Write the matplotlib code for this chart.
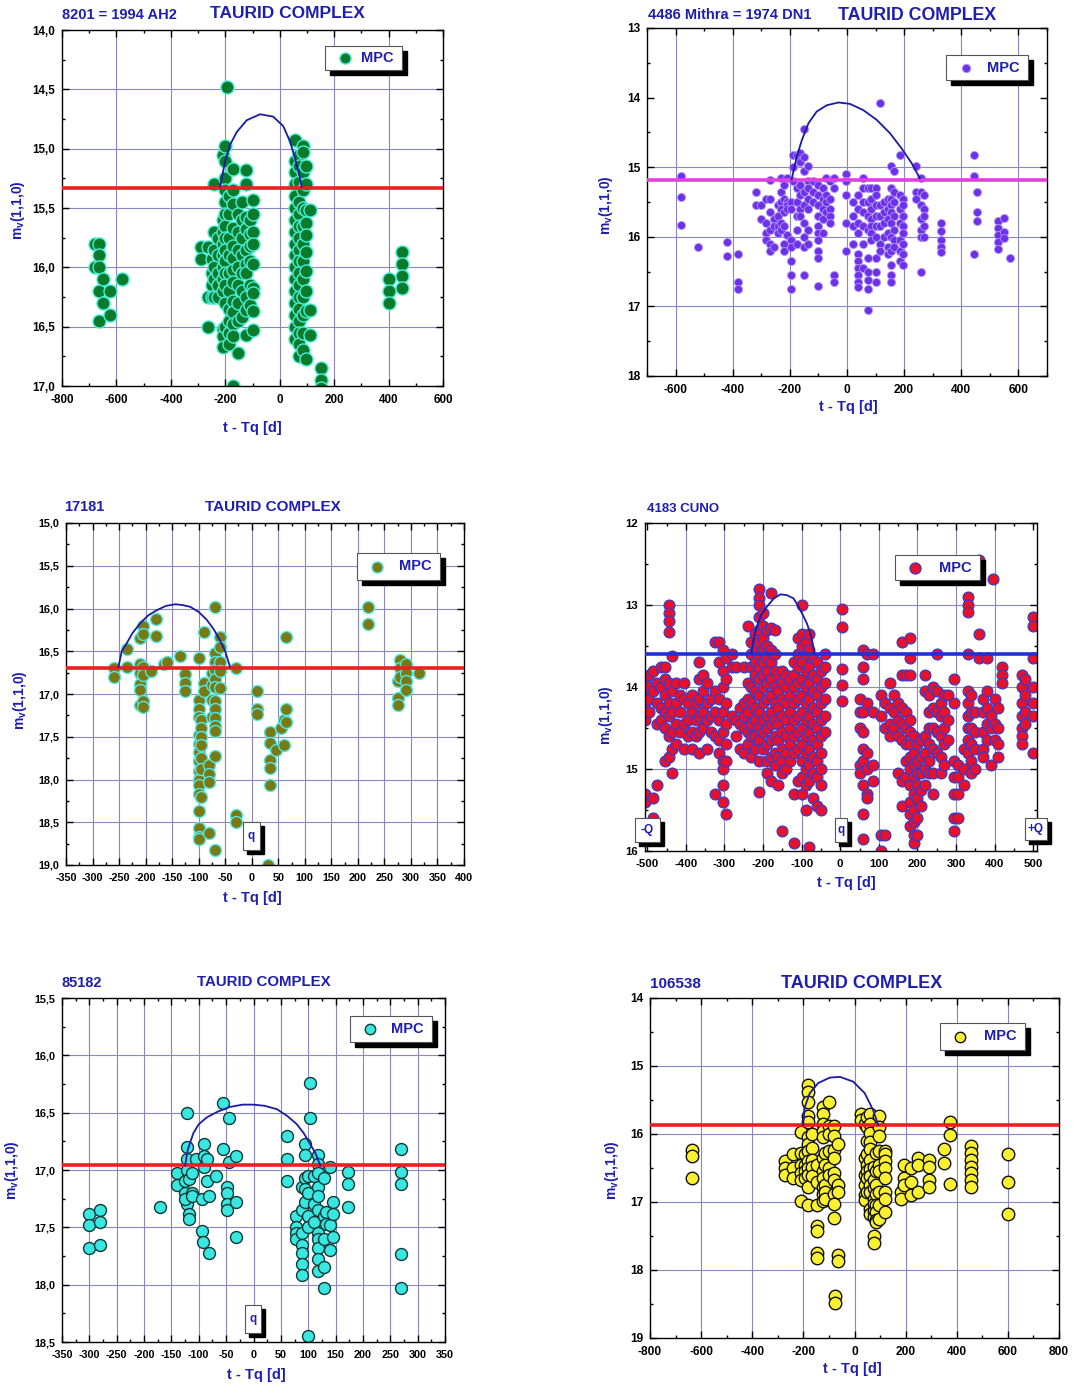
import matplotlib
matplotlib.use("Agg")
import matplotlib.pyplot as plt
from matplotlib.patches import Rectangle
from matplotlib.lines import Line2D
from matplotlib.ticker import MultipleLocator, FuncFormatter

plt.rcParams['font.family'] = ['Liberation Sans', 'DejaVu Sans']
plt.rcParams['axes.unicode_minus'] = False
plt.rcParams['mathtext.fontset'] = 'custom'
plt.rcParams['mathtext.rm'] = 'Liberation Sans:bold'
plt.rcParams['mathtext.bf'] = 'Liberation Sans:bold'
plt.rcParams['mathtext.default'] = 'bf'

W, H = 1073, 1386
BLUE = '#1e1eb0'

# ---------------- data ----------------
# Panel 1: 8201 = 1994 AH2   (x = t-Tq [d], list of m_v values)
p1_cols = [
    (-680, [15.8, 16.0]),
    (-665, [15.8, 15.9, 16.0, 16.2, 16.45]),
    (-650, [16.1, 16.3]),
    (-625, [16.2, 16.4]),
    (-580, [16.1]),
    (-290, [15.83, 15.93]),
    (-265, [15.83, 16.25, 16.5]),
    (-250, [15.93, 16.05, 16.15, 16.25]),
    (-240, [15.3, 15.7, 15.85, 16.0, 16.1, 16.25]),
    (-225, [15.75, 15.9, 16.05, 16.15, 16.25]),
    (-210, [15.05, 15.6, 15.7, 15.8, 15.9, 16.0, 16.1, 16.2, 16.52, 16.58, 16.67]),
    (-200, [14.98, 15.1, 15.25, 15.35, 15.45, 15.55, 15.65, 15.75, 15.85, 15.95, 16.05, 16.15, 16.3, 16.5]),
    (-195, [14.48]),
    (-185, [15.4, 15.55, 15.75, 15.9, 16.05, 16.2, 16.35, 16.45, 16.55, 16.65]),
    (-170, [15.17, 15.35, 15.47, 15.67, 15.82, 15.92, 16.02, 16.12, 16.28, 16.38, 16.48, 16.58, 17.0]),
    (-155, [15.55, 15.7, 15.85, 16.0, 16.15, 16.3, 16.45, 16.72]),
    (-140, [15.45, 15.6, 15.75, 15.9, 16.05, 16.2, 16.42]),
    (-125, [15.18, 15.3, 15.58, 15.68, 15.85, 15.97, 16.05, 16.25, 16.36, 16.57]),
    (-110, [15.6, 15.72, 15.82, 15.95, 16.15, 16.32]),
    (-100, [15.43, 15.55, 15.7, 15.8, 15.97, 16.17, 16.22, 16.37, 16.53]),
    (55, [14.93, 15.1, 15.2, 15.3, 15.4, 15.5, 15.6, 15.7, 15.8, 15.9, 16.0, 16.1, 16.2, 16.3, 16.4, 16.5, 16.6]),
    (70, [15.05, 15.15, 15.28, 15.45, 15.55, 15.65, 15.75, 15.85, 15.95, 16.05, 16.15, 16.25, 16.35, 16.45, 16.55, 16.65, 16.75]),
    (85, [14.98, 15.03, 15.2, 15.35, 15.5, 15.65, 15.8, 15.95, 16.1, 16.25, 16.4, 16.55, 16.7]),
    (95, [15.15, 15.3, 15.52, 15.63, 15.73, 15.87, 16.03, 16.2, 16.37, 16.77]),
    (110, [15.52, 16.36, 16.57]),
    (150, [16.85, 16.95, 17.02]),
    (400, [16.1, 16.2, 16.3]),
    (450, [15.87, 15.97, 16.07, 16.17]),
]
p1_curve_x = [-219, -201, -183, -158, -121, -72, -24, 13, 38, 56, 72, 81]
p1_curve_y = [15.32, 15.11, 14.97, 14.86, 14.76, 14.71, 14.73, 14.81, 14.94, 15.08, 15.22, 15.32]
p1_level = 15.33

# Panel 2: 4486 Mithra = 1974 DN1
p2_cols = [
    (-580, [15.13, 15.43, 15.83]), (-520, [16.15]), (-420, [16.08, 16.28]),
    (-380, [16.25, 16.65, 16.75]),
    (-320, [15.35, 15.55]), (-300, [15.55, 15.75]),
    (-285, [15.45, 15.8, 15.95, 16.05]),
    (-270, [15.18, 15.45, 15.65, 15.9, 16.1, 16.2]),
    (-255, [15.75, 15.85, 16.15]), (-240, [15.55, 15.7, 15.85, 15.95]),
    (-230, [15.15, 15.35, 15.5, 15.6, 15.8, 15.9]),
    (-220, [15.25, 15.45, 15.65, 15.85, 16.1, 16.2]),
    (-210, [15.15, 15.5, 15.55, 15.6, 15.98]),
    (-195, [15.5, 15.6, 16.05, 16.15, 16.35, 16.55, 16.75]),
    (-190, [14.83, 15.0, 15.2]),
    (-175, [14.83, 15.3, 15.5, 15.7, 15.9, 16.1]),
    (-165, [14.8, 14.92, 15.25, 15.4, 15.6, 15.7]),
    (-150, [14.45, 14.85, 15.05, 15.35, 15.55, 15.8, 16.0, 16.15, 16.55]),
    (-135, [14.98, 15.2, 15.3, 15.45, 15.6, 15.9, 16.1]),
    (-120, [15.2, 15.35, 15.5]),
    (-100, [15.25, 15.4, 15.55, 15.7, 15.85, 15.95, 16.05, 16.2, 16.3, 16.7]),
    (-85, [15.3, 15.45, 15.6, 15.75, 15.95]),
    (-75, [15.15, 15.4, 15.5, 15.65]),
    (-60, [15.2, 15.45, 15.6, 15.7, 15.8]),
    (-45, [15.15, 15.3, 16.55, 16.65]),
    (-5, [15.1, 15.2, 15.4, 15.8, 16.2]),
    (20, [15.5, 15.7, 15.85, 16.1]),
    (40, [15.4, 15.6, 15.8, 15.95, 16.25, 16.35, 16.45, 16.55, 16.65, 16.72]),
    (55, [15.15, 15.3, 15.5, 15.65, 15.85, 16.1, 16.45]),
    (75, [15.3, 15.5, 15.7, 15.9, 16.3, 16.5, 16.62, 16.75, 17.05]),
    (85, [15.3, 15.45, 15.6, 15.75, 15.85, 15.95, 16.05]),
    (100, [15.3, 15.4, 15.55, 15.7, 15.85, 16.0, 16.3, 16.5, 16.65]),
    (115, [14.08, 15.55, 15.7, 15.85, 16.1, 16.2]),
    (130, [15.5, 15.65, 15.8, 16.0]),
    (145, [15.45, 15.6, 15.75, 15.95, 16.15, 16.25]),
    (155, [14.98, 15.3, 15.45, 15.55, 15.65, 15.8, 16.0, 16.2, 16.4, 16.55, 16.65]),
    (165, [15.05, 15.35, 15.5, 15.7, 15.9, 16.05, 16.15]),
    (185, [14.83, 15.4, 15.6, 15.8, 16.05, 16.2, 16.35]),
    (195, [15.45, 15.55, 15.7, 15.85, 15.95, 16.1, 16.25, 16.4]),
    (240, [14.98, 15.35, 15.45]),
    (260, [15.15, 15.35, 15.55, 15.75, 15.9, 16.0, 16.5]),
    (270, [15.4, 15.6, 15.7, 15.85, 16.0]),
    (330, [15.8, 15.92, 16.05, 16.15, 16.22]),
    (445, [14.82, 15.12, 16.25]), (455, [15.35, 15.65, 15.78]),
    (530, [15.78, 15.88, 15.98, 16.08, 16.18]), (550, [15.73, 15.93, 16.02]),
    (570, [16.3]),
]
p2_curve_x = [-194, -176, -158, -135, -106, -71, -30, 10, 57, 104, 150, 191, 226, 255]
p2_curve_y = [15.18, 14.85, 14.61, 14.37, 14.20, 14.11, 14.07, 14.09, 14.18, 14.32, 14.51, 14.73, 14.94, 15.16]
p2_level = 15.18

# Panel 3: 17181
p3_cols = [
    (-260, [16.7, 16.8]), (-235, [16.47, 16.68]),
    (-210, [16.35, 16.65, 16.75, 16.88, 16.95, 17.13]),
    (-205, [16.2, 16.3, 16.68, 16.78, 17.08, 17.15]),
    (-190, [16.73]), (-180, [16.12, 16.32]), (-165, [16.65]), (-160, [16.62]),
    (-135, [16.55]), (-125, [16.77, 16.87, 16.97]), (-100, [16.58]),
    (-100, [17.07, 17.17, 17.27, 17.48, 17.58, 17.68, 17.78, 17.9, 18.0, 18.07, 18.17, 18.37, 18.57, 18.67, 18.7]),
    (-95, [17.3, 17.4, 17.5, 17.6, 17.75, 17.88, 18.2]),
    (-90, [16.28, 16.87, 16.97]),
    (-80, [17.83, 17.93, 18.03, 18.63]),
    (-75, [16.75, 16.9, 17.07, 17.27]),
    (-70, [15.98, 16.52, 16.62, 16.72, 16.82, 16.92, 17.08, 17.18, 17.28, 17.38, 17.43, 17.72, 18.82]),
    (-60, [16.33, 16.45, 16.62, 16.73, 16.93]),
    (-30, [16.7, 18.42, 18.5]),
    (10, [16.97, 17.18, 17.23]), (30, [19.0]),
    (35, [17.45, 17.57, 17.77, 17.87, 18.07]), (45, [17.65]), (55, [17.4]),
    (60, [17.3, 17.6]), (65, [16.33, 17.18, 17.33]),
    (220, [15.98, 16.18]), (275, [16.85, 17.05, 17.13]),
    (280, [16.6, 16.7, 16.8]), (290, [16.65, 16.75, 16.85, 16.95]), (315, [16.75]),
]
p3_curve_x = [-251, -245, -235, -225, -210, -195, -179, -162, -144, -130, -116, -100, -85, -72, -60, -50, -41]
p3_curve_y = [16.68, 16.5, 16.4, 16.29, 16.17, 16.08, 16.02, 15.97, 15.95, 15.96, 15.98, 16.04, 16.13, 16.24, 16.37, 16.5, 16.68]
p3_level = 16.7

# Panel 4: 4183 CUNO
p4_cols = [
    (-505, [13.9, 14.05, 14.2, 14.3, 14.4, 15.3, 15.4]),
    (-495, [13.85, 14.0, 14.15, 14.3]),
    (-485, [13.8, 14.05, 15.35, 15.6]),
    (-475, [13.95, 14.2, 14.45, 15.2]),
    (-465, [13.75, 14.0, 14.25, 14.4]),
    (-455, [13.75, 13.9, 14.1, 14.3, 14.5, 14.9]),
    (-445, [13.0, 13.1, 13.2, 13.33, 13.95, 14.2, 14.35, 14.6, 14.85]),
    (-435, [13.62, 14.05, 14.3, 14.55, 14.75, 15.05]),
    (-425, [13.95, 14.2, 14.45, 14.7]),
    (-415, [14.1, 14.3, 14.55]),
    (-405, [13.95, 14.15, 14.45, 14.75]),
    (-395, [14.2, 14.4, 14.6]),
    (-385, [14.1, 14.3, 14.55, 14.75]),
    (-375, [14.2, 14.4, 14.6]),
    (-365, [13.7, 13.9, 14.15, 14.35, 14.55, 14.8]),
    (-355, [13.85, 14.05, 14.3, 14.5]),
    (-345, [13.95, 14.2, 14.4, 14.75]),
    (-335, [14.15, 14.35, 14.55]),
    (-325, [13.45, 14.05, 14.3, 14.6, 15.3]),
    (-315, [13.45, 13.7, 14.15, 14.4, 14.65, 14.8]),
    (-305, [13.55, 13.8, 14.0, 14.3, 14.55, 14.9, 15.0, 15.2, 15.4]),
    (-295, [13.65, 13.9, 14.2, 14.45, 14.7, 14.9, 15.55]),
    (-280, [13.6, 13.75, 14.35]),
    (-270, [13.75, 14.4, 14.6]),
    (-260, [14.25, 14.45, 14.75]),
    (-250, [13.75, 14.2, 14.35, 14.5, 14.8]),
    (-240, [13.25, 13.95, 14.15, 14.3, 14.55, 14.7]),
    (-230, [13.45, 13.6, 13.75, 14.0, 14.2, 14.45, 14.6, 14.85]),
    (-220, [13.35, 13.55, 13.7, 13.85, 14.05, 14.25, 14.4, 14.6, 14.75]),
    (-210, [12.8, 12.92, 13.0, 13.15, 13.3, 13.45, 13.6, 13.75, 13.9, 14.1, 14.3, 14.5, 14.65, 14.9, 15.28]),
    (-200, [13.1, 13.25, 13.4, 13.55, 13.7, 13.85, 14.0, 14.2, 14.4, 14.55, 14.75]),
    (-190, [13.3, 13.5, 13.65, 13.8, 13.95, 14.15, 14.35, 14.5, 14.7, 14.9, 15.05]),
    (-180, [12.85, 13.28, 13.55, 13.7, 13.9, 14.1, 14.3, 14.45, 14.65, 14.85, 15.15]),
    (-170, [13.3, 13.6, 13.8, 14.0, 14.2, 14.4, 14.6, 14.8, 14.95]),
    (-160, [13.85, 14.05, 14.25, 14.45, 14.65, 14.85, 15.2]),
    (-150, [13.8, 13.95, 14.15, 14.35, 14.55, 14.75, 14.9, 15.05, 15.75]),
    (-140, [13.85, 14.0, 14.2, 14.4, 14.6, 14.8, 15.0]),
    (-130, [13.9, 14.1, 14.3, 14.5, 14.7, 14.9]),
    (-120, [13.7, 13.85, 14.0, 14.2, 14.4, 14.6, 14.8, 15.3, 15.9]),
    (-110, [13.4, 13.6, 13.75, 13.95, 14.15, 14.35, 14.55, 14.75, 15.15]),
    (-100, [13.0, 13.35, 13.5, 13.7, 13.9, 14.1, 14.3, 14.5, 14.7, 14.9, 15.1, 15.3]),
    (-90, [13.45, 13.6, 13.8, 14.0, 14.2, 14.4, 14.6, 14.8, 15.0, 15.2, 15.5]),
    (-80, [13.35, 13.55, 13.75, 13.95, 14.15, 14.35, 14.55, 14.75, 14.95, 15.15, 15.95]),
    (-70, [13.65, 13.85, 14.05, 14.25, 14.45, 14.65, 14.85, 15.05, 15.35]),
    (-60, [13.7, 13.9, 14.1, 14.3, 14.5, 14.7, 14.9, 15.1, 15.45]),
    (-50, [13.8, 14.0, 14.2, 14.4, 14.6, 14.8, 15.0, 15.2, 15.5]),
    (-40, [13.6, 13.75, 13.95, 14.15, 14.35, 14.55]),
    (5, [13.05, 13.27, 13.78, 13.97, 14.17]),
    (50, [14.15, 14.3, 14.5, 14.95, 15.05]),
    (60, [13.55, 13.75, 13.9, 14.3, 14.55, 14.75, 14.9, 15.2, 15.55, 15.85]),
    (70, [13.6, 14.2, 14.8, 15.0, 15.3, 15.35]),
    (85, [13.6, 14.3, 14.95, 15.15]),
    (105, [14.1, 14.35, 15.8, 16.0]),
    (115, [14.2, 14.5, 15.8]),
    (130, [13.95, 14.25, 14.45, 14.6]),
    (140, [14.1, 14.3, 14.5]),
    (150, [14.2, 14.4, 14.6, 15.05]),
    (160, [13.45, 13.85, 14.25, 14.45, 14.65, 15.15, 15.45]),
    (170, [13.85, 14.3, 14.5, 14.7, 14.9, 15.1]),
    (180, [13.4, 13.65, 13.85, 14.4, 14.55, 14.7, 14.85, 15.0, 15.2, 15.4, 15.55, 15.7]),
    (190, [14.6, 14.8, 14.95, 15.1, 15.3, 15.5, 15.65, 15.8, 15.9]),
    (200, [14.7, 14.9, 15.05, 15.2, 15.35, 15.6, 15.8]),
    (210, [14.65, 14.85, 15.05, 15.25, 15.45]),
    (220, [13.85, 14.05, 14.6, 14.8, 15.0, 15.2]),
    (230, [14.1, 14.3, 14.5, 14.7, 14.9, 15.05]),
    (240, [14.0, 14.25, 14.5, 14.75, 15.05, 15.3]),
    (250, [13.6, 14.05, 14.3, 14.55, 14.8]),
    (260, [14.2, 14.35, 14.6, 14.85, 15.05]),
    (270, [14.1, 14.3, 14.5, 14.7, 14.95]),
    (280, [14.1, 14.4, 14.65]),
    (295, [13.9, 14.2, 14.9, 15.1, 15.3, 15.6, 15.75]),
    (305, [14.95, 15.1, 15.3, 15.6]),
    (320, [14.75, 15.0, 15.2]),
    (330, [12.9, 13.0, 13.08, 13.6, 14.05, 14.2, 14.35, 14.5, 14.65, 14.8]),
    (340, [14.1, 14.3, 14.5, 14.7, 14.9, 15.05]),
    (350, [14.3, 14.55, 14.75, 15.0]),
    (360, [12.45, 13.35, 13.65]),
    (370, [14.15, 14.3, 14.55, 14.75, 14.85]),
    (380, [13.65, 14.05, 14.25, 14.45, 14.65]),
    (390, [14.35, 14.5, 14.95]),
    (395, [12.68]),
    (400, [14.15, 14.45, 14.65]),
    (410, [14.25, 14.5, 14.7, 14.85]),
    (420, [13.75, 13.85, 13.95]),
    (470, [13.85, 14.0, 14.2, 14.35, 14.5, 14.6, 14.7]),
    (480, [13.9, 14.1, 14.3, 14.45]),
    (500, [13.15, 13.25, 13.65, 14.0, 14.2, 14.35, 14.8]),
]
p4_curve_x = [-230, -224, -216, -205, -190, -172, -155, -138, -121, -108, -95, -86, -78, -72, -67]
p4_curve_y = [13.59, 13.4, 13.26, 13.12, 13.02, 12.92, 12.87, 12.88, 12.92, 13.02, 13.14, 13.23, 13.34, 13.45, 13.59]
p4_level = 13.6

# Panel 5: 85182
p5_cols = [
    (-300, [17.38, 17.48, 17.68]), (-280, [17.35, 17.45, 17.65]),
    (-170, [17.32]), (-140, [17.03, 17.13]),
    (-122, [16.5, 16.8, 16.9, 17.0, 17.3]),
    (-125, [17.1, 17.2, 17.25]), (-118, [17.08, 17.38, 17.43]),
    (-112, [17.03, 17.2, 17.23]),
    (-105, [16.9]), (-95, [17.25, 17.53]), (-92, [17.63]),
    (-90, [16.77, 16.88, 16.97]), (-85, [16.9, 17.1]), (-82, [17.23, 17.72]),
    (-68, [17.05]),
    (-55, [16.42, 16.82]), (-45, [16.55, 16.93]),
    (-48, [17.15, 17.2, 17.3, 17.35]),
    (-32, [16.88, 17.28, 17.58]),
    (62, [16.7, 16.9, 17.1]),
    (77, [17.4, 17.5, 17.55, 17.6]),
    (88, [17.15, 17.35, 17.55, 17.65, 17.72, 17.82, 17.92]),
    (94, [16.77, 16.87, 17.07, 17.17, 17.28]),
    (100, [17.05, 17.2, 17.4, 17.5, 18.45]),
    (103, [16.24, 16.55]),
    (110, [17.05, 17.3, 17.45]),
    (117, [16.87, 16.95, 17.03, 17.15, 17.23, 17.35, 17.55, 17.6, 17.68, 17.78, 17.88]),
    (128, [17.07, 17.4, 17.6, 17.85, 18.03]),
    (133, [17.37, 17.47]),
    (140, [16.97, 17.48, 17.7]),
    (146, [17.28, 17.38, 17.58]),
    (173, [17.02, 17.12, 17.32]),
    (270, [16.82, 17.02, 17.12, 17.73, 18.03]),
]
p5_curve_x = [-125, -120, -110, -100, -85, -65, -43, -20, 0, 20, 43, 62, 79, 92, 103, 113, 122]
p5_curve_y = [16.96, 16.82, 16.68, 16.6, 16.54, 16.49, 16.45, 16.43, 16.43, 16.44, 16.47, 16.53, 16.6, 16.68, 16.77, 16.85, 16.96]
p5_level = 16.96

# Panel 6: 106538
p6_cols = [
    (-635, [16.23, 16.33, 16.65]),
    (-270, [16.4, 16.5, 16.6]), (-240, [16.3, 16.5, 16.65]),
    (-210, [15.97, 16.28, 16.45, 16.58, 16.68, 16.98]),
    (-195, [16.3, 16.45, 16.55, 16.65]),
    (-180, [15.28, 15.38, 15.53, 15.73, 15.83, 16.05, 16.15, 16.25, 16.4, 16.5, 16.6, 16.78, 17.05]),
    (-165, [16.0, 16.2, 16.38, 16.48, 16.62]),
    (-145, [16.45, 16.7, 17.05, 17.35, 17.43, 17.75, 17.83]),
    (-125, [15.6, 15.7, 15.85, 15.95, 16.05, 16.35, 16.55, 16.65, 16.78, 16.88, 16.98]),
    (-115, [16.28, 16.45, 16.75, 16.85, 16.95]),
    (-100, [15.53, 15.88, 16.0, 16.25, 16.5, 16.6]),
    (-80, [15.88, 16.03, 16.23, 16.35, 16.58, 16.68, 16.88, 17.03, 17.23]),
    (-75, [18.38, 18.48]),
    (-65, [16.15, 16.75, 16.85, 17.78, 17.87]),
    (25, [15.7, 15.8]),
    (40, [15.85, 16.35, 16.6, 16.75, 16.9, 16.97]),
    (50, [15.75, 15.9, 16.1, 16.3, 16.45, 16.55, 16.65, 16.85]),
    (60, [15.7, 15.85, 15.98, 16.12, 16.22, 16.38, 16.52, 16.62, 16.75, 16.85, 17.1, 17.18]),
    (75, [16.48, 16.68, 16.8, 16.95, 17.03, 17.13, 17.22, 17.5, 17.6]),
    (85, [16.28, 16.55, 16.75, 16.88, 17.05, 17.15, 17.27, 17.3]),
    (95, [15.73, 15.9, 16.03, 16.25, 16.45, 16.55, 16.85, 17.05, 17.25]),
    (120, [16.25, 16.3, 16.4, 16.5, 16.65, 16.85, 16.95, 17.15]),
    (180, [16.85, 16.95]), (195, [16.45, 16.65, 16.75]),
    (220, [16.5, 16.7, 16.9]), (250, [16.35, 16.45, 16.85]),
    (290, [16.38, 16.48, 16.68, 16.78]), (350, [16.22, 16.42]),
    (375, [15.82, 16.02, 16.73]),
    (455, [16.17, 16.28, 16.38, 16.48, 16.58, 16.68, 16.78]),
    (600, [16.3, 16.7, 17.18]),
]
p6_curve_x = [-201, -194, -175, -142, -96, -57, -5, 40, 73, 93]
p6_curve_y = [15.87, 15.60, 15.40, 15.25, 15.17, 15.16, 15.23, 15.40, 15.65, 15.87]
p6_level = 15.87

titles_small = ["8201 = 1994 AH2", "4486 Mithra = 1974 DN1", "17181", "4183 CUNO", "85182", "106538"]
title_main = "TAURID COMPLEX"
legend_label = "MPC"


def expand(cols):
    xs, ys = [], []
    for x, yl in cols:
        xs += [x] * len(yl)
        ys += list(yl)
    return xs, ys


fig = plt.figure(figsize=(W / 100, H / 100), dpi=100)


def fx(x):
    return x / W


def fy(y):
    return 1 - y / H


def add_ax(l, t, r, b):
    return fig.add_axes([fx(l), fy(b), (r - l) / W, (b - t) / H])


def shadow_box(x0, y0, x1, y1, off=5):
    fig.patches.append(Rectangle((fx(x0 + off), fy(y1 + off)), (x1 - x0) / W, (y1 - y0) / H,
                                 transform=fig.transFigure, facecolor='black', edgecolor='black', zorder=5))
    fig.patches.append(Rectangle((fx(x0), fy(y1)), (x1 - x0) / W, (y1 - y0) / H,
                                 transform=fig.transFigure, facecolor='white', edgecolor='#555555',
                                 lw=0.8, zorder=6))


def legend_box(x0, y0, x1, y1, face, edge, ms, mew):
    shadow_box(x0, y0, x1, y1)
    ym = (y0 + y1) / 2
    fig.add_artist(Line2D([fx(x0 + 20)], [fy(ym)], transform=fig.transFigure, marker='o', ls='none',
                          markerfacecolor=face, markeredgecolor=edge, markersize=ms, markeredgewidth=mew,
                          zorder=7))
    fig.text(fx(x1 - 8), fy(ym), legend_label, ha='right', va='center', color=BLUE,
             fontsize=10.5, fontweight='bold', zorder=7)


def label_box(x0, y0, x1, y1, txt):
    shadow_box(x0, y0, x1, y1, off=4)
    fig.text(fx((x0 + x1) / 2), fy((y0 + y1) / 2), txt, ha='center', va='center', color=BLUE,
             fontsize=8.5, fontweight='bold', zorder=7)


comma = FuncFormatter(lambda v, p: f"{v:.1f}".replace('.', ','))
integer = FuncFormatter(lambda v, p: f"{v:.0f}")

GRID = '#8888c4'


def setup(ax, xlim, ylim, xmaj, xmin, ymaj, ymin, xgrid, ygrid, yfmt, lsize=8.4):
    ax.set_xlim(*xlim)
    ax.set_ylim(*ylim)
    ax.xaxis.set_major_locator(MultipleLocator(xmaj))
    ax.xaxis.set_minor_locator(MultipleLocator(xmin))
    ax.yaxis.set_major_locator(MultipleLocator(ymaj))
    ax.yaxis.set_minor_locator(MultipleLocator(ymin))
    ax.yaxis.set_major_formatter(yfmt)
    ax.xaxis.set_major_formatter(integer)
    ax.tick_params(which='both', direction='in', top=True, right=True, width=1, color='black')
    ax.tick_params(which='major', length=5, labelsize=lsize)
    ax.tick_params(axis='x', which='major', pad=5.5)
    ax.tick_params(axis='y', which='major', pad=5)
    ax.tick_params(which='minor', length=2.5)
    for lab in ax.get_xticklabels() + ax.get_yticklabels():
        lab.set_fontweight('bold')
    for v in xgrid:
        ax.axvline(v, color=GRID, lw=0.8, zorder=0.5)
    for v in ygrid:
        ax.axhline(v, color=GRID, lw=0.8, zorder=0.5)
    for s in ax.spines.values():
        s.set_linewidth(1.0)


def plot_panel(ax, cols, cx, cy, level, face, edge, ms, mew, lcolor):
    xs, ys = expand(cols)
    ax.plot(xs, ys, 'o', ls='none', markerfacecolor=face, markeredgecolor=edge, markersize=ms,
            markeredgewidth=mew, zorder=2)
    ax.axhline(level, color=lcolor, lw=2.6, zorder=3)
    ax.plot(cx, cy, color='#1a1aa8', lw=1.3, zorder=4, solid_joinstyle='round')


def xlabel(x, y):
    fig.text(fx(x), fy(y), "t - Tq [d]", ha='center', va='center', color=BLUE, fontsize=10.5,
             fontweight='bold')


def ylabel(x, y):
    fig.text(fx(x), fy(y), r"m$_{v}$(1,1,0)", ha='center', va='center', color=BLUE, fontsize=10,
             fontweight='bold', rotation=90)


# ---------- Panel 1 ----------
ax1 = add_ax(62, 30, 443, 386)
setup(ax1, (-800, 600), (17, 14), 200, 100, 0.5, 0.25,
      [-600, -400, -200, 0, 200, 400], [14.5, 15.0, 15.5, 16.0, 16.5], comma)
plot_panel(ax1, p1_cols, p1_curve_x, p1_curve_y, p1_level, '#0b7a2a', '#48f0d8', 9.4, 1.0, '#e82020')
fig.text(fx(62), fy(15), titles_small[0], ha='left', va='center', color=BLUE, fontsize=10.5, fontweight='bold')
fig.text(fx(210), fy(14), title_main, ha='left', va='center', color=BLUE, fontsize=12.5, fontweight='bold')
legend_box(325, 46, 402, 70, '#0b7a2a', '#48f0d8', 8, 1.0)
xlabel(252, 428)
ylabel(18, 210)

# ---------- Panel 2 ----------
ax2 = add_ax(647, 28, 1047, 376)
setup(ax2, (-700, 700), (18, 13), 200, 100, 1, 0.5,
      [-600, -400, -200, 0, 200, 400, 600], [15, 16, 17], integer, lsize=8.6)
plot_panel(ax2, p2_cols, p2_curve_x, p2_curve_y, p2_level, '#7030e8', '#a898ff', 5.8, 0.6, '#e040e0')
fig.text(fx(648), fy(15), titles_small[1], ha='left', va='center', color=BLUE, fontsize=10.5, fontweight='bold')
fig.text(fx(838), fy(15), title_main, ha='left', va='center', color=BLUE, fontsize=12.8, fontweight='bold')
legend_box(946, 55, 1028, 80, '#7030e8', '#a898ff', 6, 0.8)
xlabel(848, 407)
ylabel(606, 205)

# ---------- Panel 3 ----------
ax3 = add_ax(66, 523, 464, 865)
setup(ax3, (-350, 400), (19, 15), 50, 25, 0.5, 0.25,
      list(range(-300, 400, 50)), [15.5, 16.0, 16.5, 17.0, 17.5, 18.0, 18.5], comma, lsize=7.8)
plot_panel(ax3, p3_cols, p3_curve_x, p3_curve_y, p3_level, '#7a7a14', '#50e8e8', 8.6, 1.0, '#e82020')
fig.text(fx(64), fy(507), titles_small[2], ha='left', va='center', color=BLUE, fontsize=10.5, fontweight='bold')
fig.text(fx(205), fy(507), title_main, ha='left', va='center', color=BLUE, fontsize=11, fontweight='bold')
legend_box(357, 553, 440, 580, '#7a7a14', '#50e8e8', 8, 1.0)
label_box(243, 822, 260, 850, 'q')
xlabel(252, 898)
ylabel(20, 700)

# ---------- Panel 4 ----------
ax4 = add_ax(645, 523, 1037, 851)
setup(ax4, (-506, 510), (16, 12), 100, 50, 1, 0.5,
      [-400, -300, -200, -100, 0, 100, 200, 300, 400], [13, 14, 15], integer, lsize=8.2)
plot_panel(ax4, p4_cols, p4_curve_x, p4_curve_y, p4_level, '#e8102a', '#3a3ac8', 7.8, 0.9, '#2030d8')
fig.text(fx(647), fy(509), titles_small[3], ha='left', va='center', color=BLUE, fontsize=9.5, fontweight='bold')
legend_box(895, 555, 980, 580, '#e8102a', '#3a3ac8', 8, 0.9)
label_box(635, 818, 660, 842, '-Q')
label_box(835, 818, 847, 842, 'q')
label_box(1025, 818, 1047, 840, '+Q')
xlabel(846, 883)
ylabel(606, 715)

# ---------- Panel 5 ----------
ax5 = add_ax(62, 998, 445, 1342)
setup(ax5, (-350, 350), (18.5, 15.5), 50, 25, 0.5, 0.25,
      list(range(-300, 350, 50)), [16.0, 16.5, 17.0, 17.5, 18.0], comma, lsize=7.8)
plot_panel(ax5, p5_cols, p5_curve_x, p5_curve_y, p5_level, '#38e8e0', '#103838', 8.6, 1.0, '#e82020')
fig.text(fx(62), fy(983), titles_small[4], ha='left', va='center', color=BLUE, fontsize=10.5, fontweight='bold')
fig.text(fx(197), fy(982), title_main, ha='left', va='center', color=BLUE, fontsize=10.8, fontweight='bold')
legend_box(350, 1016, 432, 1042, '#38e8e0', '#103838', 7.5, 1.0)
label_box(245, 1305, 261, 1333, 'q')
xlabel(256, 1375)
ylabel(12, 1170)

# ---------- Panel 6 ----------
ax6 = add_ax(650, 998, 1059, 1338)
setup(ax6, (-800, 800), (19, 14), 200, 100, 1, 0.5,
      [-600, -400, -200, 0, 200, 400, 600], [15, 16, 17, 18], integer, lsize=8.6)
plot_panel(ax6, p6_cols, p6_curve_x, p6_curve_y, p6_level, '#f8f030', '#101010', 9, 1.0, '#e82020')
fig.text(fx(650), fy(984), titles_small[5], ha='left', va='center', color=BLUE, fontsize=11, fontweight='bold')
fig.text(fx(781), fy(983), title_main, ha='left', va='center', color=BLUE, fontsize=13, fontweight='bold')
legend_box(940, 1023, 1025, 1050, '#f8f030', '#101010', 7.5, 1.0)
xlabel(852, 1369)
ylabel(612, 1170)

fig.savefig("out.png", dpi=100)
